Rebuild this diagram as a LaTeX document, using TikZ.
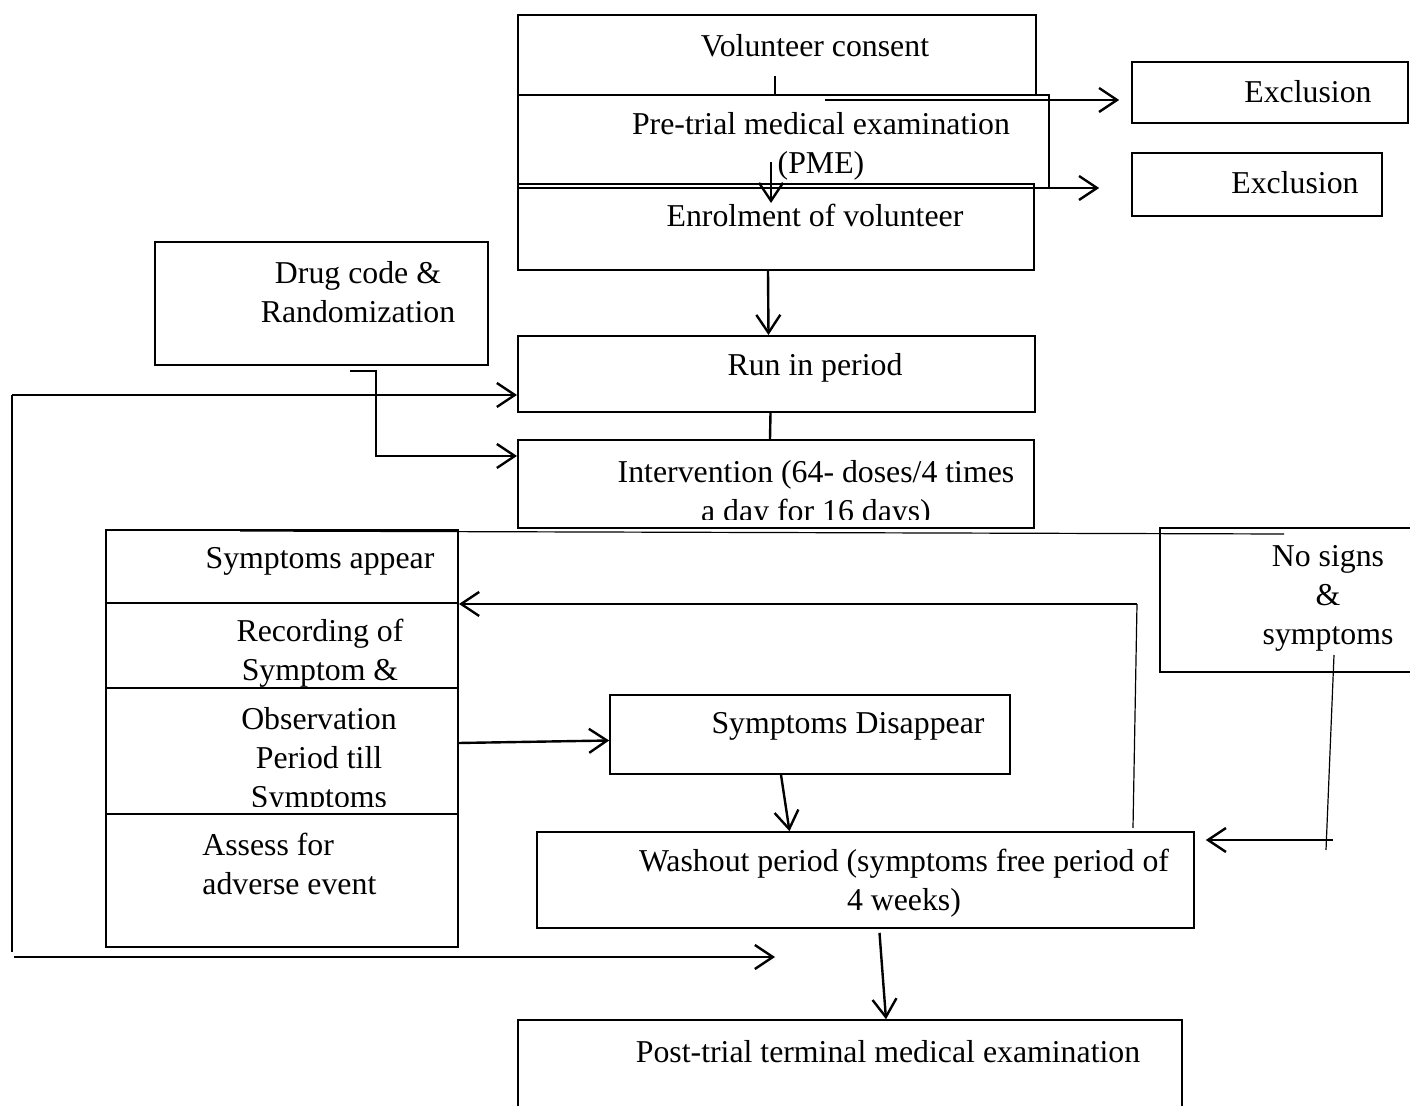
\documentclass[tikz,border=0pt]{standalone}
\usepackage{fontspec}
\setmainfont{Liberation Serif}
\usetikzlibrary{arrows.meta,fit}

\tikzset{
  box/.style={draw, line width=1pt, inner sep=0pt},
  txt/.style={font=\fontsize{15.9}{19.5}\selectfont, align=center, inner sep=0pt},
  arr/.style={line width=1.2pt, -{Straight Barb[length=9pt,width=12pt]}},
  link/.style={line width=1.2pt},
  thinline/.style={line width=0.6pt}
}

\begin{document}
\begin{tikzpicture}[x=0.5pt,y=-0.5pt]
    \useasboundingbox (0,0) rectangle (1410,1106);

    % consent, PME and enrolment
    \node[box, fit={(518,15) (1036,95)}] (vol) {};
    \node[box, fit={(518,95) (1049,188)}] (pme) {};
    \node[box, fit={(518,184) (1034,270)}] (enrol) {};
    \node[txt] (volt) at (815,46) {Volunteer consent};
    \node[txt] (pmet) at (821,146) {Pre-trial medical examination\\(PME)};
    \node[txt] (enrolt) at (815,215) {Enrolment of volunteer};

    \node[box, line width=0.8pt, fit={(1132,62) (1408,123)}] (exA) {};
    \node[box, line width=0.8pt, fit={(1132,153) (1382,216)}] (exB) {};
    \node[txt] (exAt) at (1308,92) {Exclusion};
    \node[txt] (exBt) at (1295,183) {Exclusion};

    \coordinate (tick) at (775,76);
    \draw[link] (tick) -- (vol.south -| tick);
    \coordinate (pmeA) at (825,100);
    \draw[arr, shorten >=6pt] (pmeA) -- (pmeA -| exA.west);
    \coordinate (pmeB) at (808,188);
    \draw[arr, shorten >=16pt] (pmeB) -- (pmeB -| exB.west);
    \coordinate (pmeD) at (771,162);
    \draw[arr] (pmeD) -- ++(0,41);

    % run in and intervention
    \node[box, fit={(518,336) (1035,412)}] (runin) {};
    \node[txt] (runint) at (815,368) {Run in period};
    \draw[arr] ([xshift=-4pt]enrol.south) -- ([xshift=-4pt]runin.north);

    \node[box, fit={(518,440) (1034,528)}] (interv) {};
    \draw[link] ([xshift=-3pt]runin.south) -- ([xshift=-3pt]interv.north);
    \begin{scope}
        \clip (interv.north west) rectangle ([yshift=4.5pt]interv.south east);
        \node[txt] (intervt) at (816,494) {Intervention (64- doses/4 times\\a day for 16 days)};
    \end{scope}

    \node[box, fit={(155,242) (488,365)}] (drug) {};
    \node[txt] (drugt) at (358,292) {Drug code \&\\Randomization};
    \coordinate (drugO) at (350,371);
    \draw[arr] (drugO) -- ++(26,0) |- ([yshift=14pt]interv.west);

    % loop on the left
    \coordinate (loopT) at (12,395);
    \coordinate (loopB) at (12,952);
    \draw[thinline] (loopB) -- (loopT);
    \draw[arr] (loopT) -- (loopT -| runin.west);
    \coordinate (loopE) at (14,957);
    \coordinate (loopF) at (775,957);
    \draw[arr] (loopE) -- (loopF);

    \coordinate (topL) at (240,531);
    \coordinate (topR) at (1284,534);
    \draw[thinline] (topL) -- (topR);

    % symptoms column
    \node[box, fit={(106,530) (458,603)}] (sapp) {};
    \node[box, line width=0.7pt, fit={(106,603) (458,688)}] (srec) {};
    \node[box, line width=0.7pt, fit={(106,688) (458,814)}] (sobs) {};
    \node[box, line width=0.7pt, fit={(106,814) (458,947)}] (sadv) {};
    \node[txt] (sappt) at (320,561) {Symptoms appear};
    \node[txt] (srect) at (320,653) {Recording of\\Symptom \&};
    \begin{scope}
        \clip (sobs.north west) rectangle ([yshift=4pt]sobs.south east);
        \node[txt] (sobst) at (319,761) {Observation\\Period till\\Symptoms};
    \end{scope}
    \node[txt, align=left, anchor=west] (sadvt) at (202,864) {Assess for\\adverse event};

    \node[box, line width=0.7pt, fit={(1160,528) (1420,672)}] (nosign) {};
    \node[txt] (nosignt) at (1328,598) {No signs\\\&\\symptoms};

    % disappear, washout, post-trial
    \node[box, line width=0.8pt, fit={(610,695) (1010,774)}] (disap) {};
    \node[txt] (disapt) at (848,726) {Symptoms Disappear};
    \node[box, line width=0.8pt, fit={(537,832) (1194,928)}] (wash) {};
    \node[txt] (washt) at (904,883) {Washout period (symptoms free period of\\4 weeks)};
    \node[box, line width=0.8pt, fit={(518,1020) (1182,1130)}] (post) {};
    \node[txt] (postt) at (888,1052) {Post-trial terminal medical examination};

    \draw[arr] ([yshift=4pt]sobs.east) -- ([yshift=-3pt]disap.west);
    \draw[arr] ([xshift=-14.5pt]disap.south) -- ([xshift=-38pt]wash.north);
    \draw[arr] ([xshift=7pt,yshift=-2pt]wash.south) -- ([xshift=18pt]post.north);

    \coordinate (washUp) at (1137,604);
    \coordinate (washLow) at (1133,828);
    \draw[thinline] (washLow) -- (washUp);
    \draw[arr] (washUp) -- (sapp.south east);

    \coordinate (nsTop) at (1334,655);
    \coordinate (nsBot) at (1326,850);
    \draw[thinline] (nsTop) -- (nsBot);
    \coordinate (nsArr) at (1333,840);
    \draw[arr, shorten >=5.5pt] (nsArr) -- (nsArr -| wash.east);
\end{tikzpicture}
\end{document}
